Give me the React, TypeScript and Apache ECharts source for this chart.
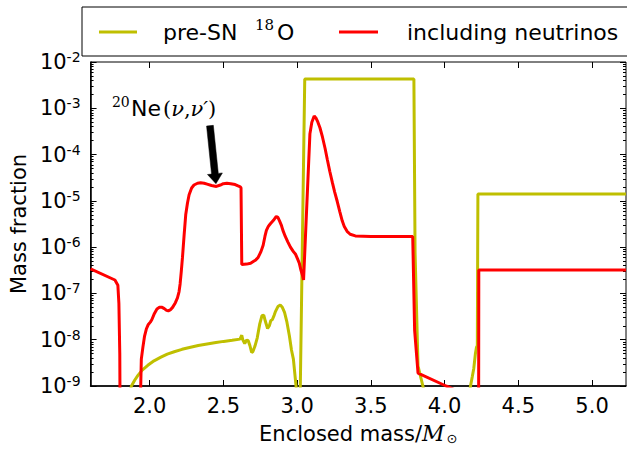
import { useEffect, useRef } from "react";
import * as echarts from "echarts";

const W = 627;
const H = 450;

// Enclosed mass (solar masses) and 18O mass fraction including neutrino processes
const neutrinoMass = [
  1.6, 1.765, 1.785, 1.792, 1.798, 1.802,
  1.932, 1.94, 1.944, 1.955, 1.966, 1.978, 1.99, 2.005, 2.015, 2.033, 2.05, 2.067, 2.085, 2.1,
  2.115, 2.127, 2.14, 2.156, 2.175, 2.189, 2.2, 2.207, 2.215, 2.223, 2.234, 2.245, 2.257, 2.268,
  2.285, 2.301, 2.325, 2.346, 2.37, 2.39, 2.42, 2.453, 2.48, 2.5, 2.524, 2.55, 2.58, 2.6, 2.615,
  2.62, 2.625, 2.658, 2.685, 2.703, 2.72, 2.736, 2.755, 2.77, 2.782, 2.792, 2.805, 2.819, 2.84,
  2.859, 2.87, 2.881, 2.893, 2.904, 2.92, 2.937, 2.955, 2.975, 2.99, 3.004, 3.015, 3.026, 3.036,
  3.044, 3.087, 3.1, 3.116, 3.13, 3.138, 3.155, 3.172, 3.19, 3.205, 3.222, 3.239, 3.255, 3.272,
  3.29, 3.306, 3.32, 3.339, 3.36, 3.395, 3.5, 3.784, 3.797, 3.82, 4.01, 4.231, 4.232, 5.23,
];
const neutrinoFrac = [
  3.4e-7, 1.95e-7, 1.5e-7, 6e-8, 5e-9, 1e-11,
  1e-11, 1e-9, 3.8e-9, 7e-9, 1.2e-8, 1.7e-8, 2.1e-8, 2.4e-8, 2.7e-8, 3.7e-8, 4.6e-8, 5e-8, 5e-8, 4.7e-8,
  4.3e-8, 4.2e-8, 4.4e-8, 5e-8, 6.3e-8, 8e-8, 1.1e-7, 1.6e-7, 3e-7, 6e-7, 1.8e-6, 5e-6, 9e-6, 1.35e-5,
  1.9e-5, 2.2e-5, 2.4e-5, 2.45e-5, 2.4e-5, 2.3e-5, 2.15e-5, 2.05e-5, 2.2e-5, 2.35e-5, 2.4e-5, 2.35e-5, 2.25e-5, 2.1e-5, 2e-5,
  1.9e-5, 4.2e-7, 4.3e-7, 4.5e-7, 4.9e-7, 5.3e-7, 6e-7, 8e-7, 1.1e-6, 1.7e-6, 2.3e-6, 2.8e-6, 3.2e-6, 3.8e-6,
  4.6e-6, 4.4e-6, 3.7e-6, 3e-6, 2.3e-6, 1.7e-6, 1.3e-6, 1e-6, 8e-7, 7e-7, 5.5e-7, 4.5e-7, 3.2e-7, 2.5e-7,
  1.95e-7, 2.8e-4, 5e-4, 6.8e-4, 6e-4, 5.3e-4, 3.8e-4, 2.4e-4, 1.35e-4, 7.8e-5, 4.3e-5, 2.5e-5, 1.55e-5, 9.8e-6,
  5.8e-6, 3.7e-6, 2.8e-6, 2.2e-6, 1.9e-6, 1.75e-6, 1.7e-6, 1.7e-6, 1.6e-8, 1.9e-9, 1e-9, 5e-10, 3.2e-7, 3.2e-7,
];

// Pre-supernova 18O profile
const preSnMass = [
  1.86, 1.877, 1.9, 1.921, 1.95, 1.988, 2.03, 2.077, 2.12, 2.167, 2.22, 2.278, 2.33, 2.39, 2.45,
  2.502, 2.56, 2.613, 2.625, 2.632, 2.645, 2.658, 2.669, 2.68, 2.692, 2.7, 2.714, 2.73, 2.747,
  2.762, 2.774, 2.785, 2.8, 2.812, 2.822, 2.832, 2.845, 2.854, 2.87, 2.886, 2.9, 2.915, 2.93,
  2.948, 2.962, 2.975, 2.985, 2.993, 3.0, 3.018, 3.022, 3.052, 3.792, 3.8, 3.82, 3.853, 3.87,
  4.16, 4.176, 4.188, 4.198, 4.209, 4.216, 4.222, 4.226, 5.23,
];
const preSnFrac = [
  6e-10, 1e-9, 1.35e-9, 1.7e-9, 2.2e-9, 2.8e-9, 3.5e-9, 4.2e-9, 4.9e-9, 5.5e-9, 6.2e-9, 6.9e-9, 7.5e-9, 8.1e-9, 8.7e-9,
  9.2e-9, 9.7e-9, 1.03e-8, 1.25e-8, 1e-8, 8.3e-9, 9.8e-9, 9.5e-9, 7.5e-9, 5.3e-9, 5.5e-9, 7.2e-9, 1.1e-8, 2.2e-8,
  3.3e-8, 3.4e-8, 2.5e-8, 1.75e-8, 2e-8, 2.6e-8, 2.7e-8, 3.4e-8, 4.1e-8, 5.2e-8, 5.6e-8, 5e-8, 3.9e-8, 2.5e-8,
  1.2e-8, 6e-9, 3.8e-9, 1.8e-9, 1e-9, 5e-10, 5e-10, 1e-9, 4.3e-3, 4.3e-3, 7.5e-7, 2.7e-9, 1e-9, 5e-10,
  5e-10, 1e-9, 1.6e-9, 2.4e-9, 5e-9, 6.8e-9, 7.5e-9, 1.4e-5, 1.4e-5,
];

const massTicks = [2.0, 2.5, 3.0, 3.5, 4.0, 4.5, 5.0];
const decadeTicks = [1e-9, 1e-8, 1e-7, 1e-6, 1e-5, 1e-4, 1e-3, 1e-2];
const minorFracTicks: number[] = [];
for (let e = -9; e <= -3; e++) {
  for (let m = 2; m <= 9; m++) minorFracTicks.push(m * Math.pow(10, e));
}

const seriesNames = ["pre-SN 18O", "including neutrinos"];
const seriesColors = ["#bfbf00", "#ff0000"];

// Point the arrow touches on the neutrino curve
const arrowTarget = [2.45, 2.35e-5];

const SANS = "DejaVu Sans";
const SERIF = "DejaVu Serif";

const X_MIN = 1.6;
const X_MAX = 5.23;
const Y_MIN = 1e-9;
const Y_MAX = 1e-2;

function pairs(xs: number[], ys: number[]) {
  return xs.map((x, i) => [x, ys[i]]);
}

function yAxisBase(position: "left" | "right", minor: boolean, labels: boolean) {
  return {
    type: "log" as const,
    logBase: 10,
    min: Y_MIN,
    max: Y_MAX,
    position,
    splitLine: { show: false },
    axisLine: { show: false },
    axisTick: {
      show: true,
      inside: true,
      length: minor ? 3 : 6,
      lineStyle: { color: "#000", width: 1 },
      customValues: minor ? minorFracTicks : decadeTicks,
    },
    axisLabel: labels
      ? {
          show: true,
          margin: 10,
          customValues: decadeTicks,
          formatter: (v: number) => `{b|10}{s|-${Math.round(-Math.log10(v))}}`,
          rich: {
            b: { fontFamily: SANS, fontSize: 21, color: "#000" },
            s: { fontFamily: SANS, fontSize: 14, color: "#000", padding: [0, 0, 10, 0] },
          },
        }
      : { show: false },
  };
}

export default function App() {
  const ref = useRef<HTMLDivElement>(null);

  useEffect(() => {
    if (!ref.current) return;
    const chart = echarts.init(ref.current, undefined, { renderer: "svg", width: W, height: H });

    const xBase = {
      type: "value" as const,
      min: X_MIN,
      max: X_MAX,
      splitLine: { show: false },
    };

    chart.setOption({
      animation: false,
      backgroundColor: "#fff",
      grid: {
        left: 82,
        right: 1,
        top: 62,
        bottom: 52,
        show: true,
        borderColor: "#000",
        borderWidth: 1,
      },
      xAxis: [
        {
          ...xBase,
          position: "bottom",
          name: "{a|Enclosed mass/}{m|M}{o|⊙}",
          nameLocation: "middle",
          nameGap: 36,
          nameTextStyle: {
            rich: {
              a: { fontFamily: SANS, fontSize: 21, color: "#000" },
              m: { fontFamily: SERIF, fontStyle: "italic", fontSize: 22, color: "#000" },
              o: { fontFamily: SANS, fontSize: 13, color: "#000", padding: [10, 0, 0, 2] },
            },
          },
          axisLine: { show: true, onZero: false, lineStyle: { color: "#000", width: 1.5 } },
          axisTick: {
            show: true,
            inside: true,
            length: 6,
            lineStyle: { color: "#000" },
            customValues: massTicks,
          },
          axisLabel: {
            show: true,
            margin: 9,
            customValues: massTicks,
            fontFamily: SANS,
            fontSize: 21,
            color: "#000",
            formatter: (v: number) => v.toFixed(1),
          },
        },
        {
          ...xBase,
          position: "top",
          axisLine: { show: false },
          axisTick: {
            show: true,
            inside: true,
            length: 6,
            lineStyle: { color: "#000" },
            customValues: massTicks,
          },
          axisLabel: { show: false },
        },
      ],
      yAxis: [
        {
          ...yAxisBase("left", false, true),
          name: "Mass fraction",
          nameLocation: "middle",
          nameRotate: 90,
          nameGap: 54,
          nameTextStyle: { fontFamily: SANS, fontSize: 21, color: "#000" },
          axisLine: { show: true, lineStyle: { color: "#000", width: 1.5 } },
        },
        yAxisBase("left", true, false),
        yAxisBase("right", false, false),
        yAxisBase("right", true, false),
      ],
      series: [
        {
          name: seriesNames[0],
          type: "line",
          data: pairs(preSnMass, preSnFrac),
          showSymbol: false,
          symbol: "none",
          clip: true,
          lineStyle: { color: seriesColors[0], width: 3 },
          itemStyle: { color: seriesColors[0] },
        },
        {
          name: seriesNames[1],
          type: "line",
          data: pairs(neutrinoMass, neutrinoFrac),
          showSymbol: false,
          symbol: "none",
          clip: true,
          lineStyle: { color: seriesColors[1], width: 3 },
          itemStyle: { color: seriesColors[1] },
        },
      ],
    });

    // Arrow and label for the 20Ne(nu,nu') feature
    const tip = chart.convertToPixel({ gridIndex: 0 }, arrowTarget) as number[];
    const tx = tip[0];
    const ty = tip[1];
    const sx = tx - 6;
    const sy = ty - 58;
    const len = Math.hypot(tx - sx, ty - sy);
    const ux = (tx - sx) / len;
    const uy = (ty - sy) / len;
    const nx = -uy;
    const ny = ux;
    const shaft = 3.4;
    const head = 7.5;
    const headLen = 10;
    const bx = tx - ux * headLen;
    const by = ty - uy * headLen;
    const arrowPts = [
      [sx + nx * shaft, sy + ny * shaft],
      [bx + nx * shaft, by + ny * shaft],
      [bx + nx * head, by + ny * head],
      [tx, ty],
      [bx - nx * head, by - ny * head],
      [bx - nx * shaft, by - ny * shaft],
      [sx - nx * shaft, sy - ny * shaft],
    ];
    const baseY = ty - 68;

    chart.setOption({
      graphic: [
        // legend frame and entries
        {
          type: "rect",
          shape: { x: 82, y: 7, width: 560, height: 49 },
          style: { fill: "#fff", stroke: "#000", lineWidth: 1 },
          z: 10,
        },
        {
          type: "line",
          shape: { x1: 99, y1: 32, x2: 137, y2: 32 },
          style: { stroke: seriesColors[0], lineWidth: 3 },
          z: 11,
        },
        {
          type: "text",
          x: 163,
          y: 32,
          style: { text: "pre-SN", font: `22px '${SANS}'`, fill: "#000", verticalAlign: "middle" },
          z: 11,
        },
        {
          type: "text",
          x: 255,
          y: 25,
          style: { text: "18", font: `15px '${SERIF}'`, fill: "#000", verticalAlign: "middle" },
          z: 11,
        },
        {
          type: "text",
          x: 277,
          y: 32,
          style: { text: "O", font: `22px '${SANS}'`, fill: "#000", verticalAlign: "middle" },
          z: 11,
        },
        {
          type: "line",
          shape: { x1: 339, y1: 32, x2: 378, y2: 32 },
          style: { stroke: seriesColors[1], lineWidth: 3 },
          z: 11,
        },
        {
          type: "text",
          x: 407,
          y: 32,
          style: {
            text: seriesNames[1],
            font: `22px '${SANS}'`,
            fill: "#000",
            verticalAlign: "middle",
          },
          z: 11,
        },
        // annotation
        {
          type: "polygon",
          shape: { points: arrowPts },
          style: { fill: "#000", stroke: "#000", lineWidth: 0.5 },
          z: 12,
        },
        {
          type: "text",
          x: tx - 104,
          y: baseY - 14,
          style: { text: "20", font: `14px '${SERIF}'`, fill: "#000", verticalAlign: "middle" },
          z: 12,
        },
        {
          type: "text",
          x: tx - 85,
          y: baseY - 7,
          style: { text: "Ne", font: `22px '${SANS}'`, fill: "#000", verticalAlign: "middle" },
          z: 12,
        },
        {
          type: "text",
          x: tx - 53,
          y: baseY - 7,
          style: {
            text: "{p|(}{i|ν}{p|,}{i|ν′}{p|)}",
            fill: "#000",
            verticalAlign: "middle",
            rich: {
              p: { fontFamily: SERIF, fontSize: 21, fill: "#000" },
              i: { fontFamily: SERIF, fontStyle: "italic", fontSize: 21, fill: "#000" },
            },
          },
          z: 12,
        },
      ],
    });

    return () => chart.dispose();
  }, []);

  return (
    <div
      ref={ref}
      style={{ position: "absolute", left: 0, top: 0, width: W, height: H, background: "#fff" }}
    />
  );
}
